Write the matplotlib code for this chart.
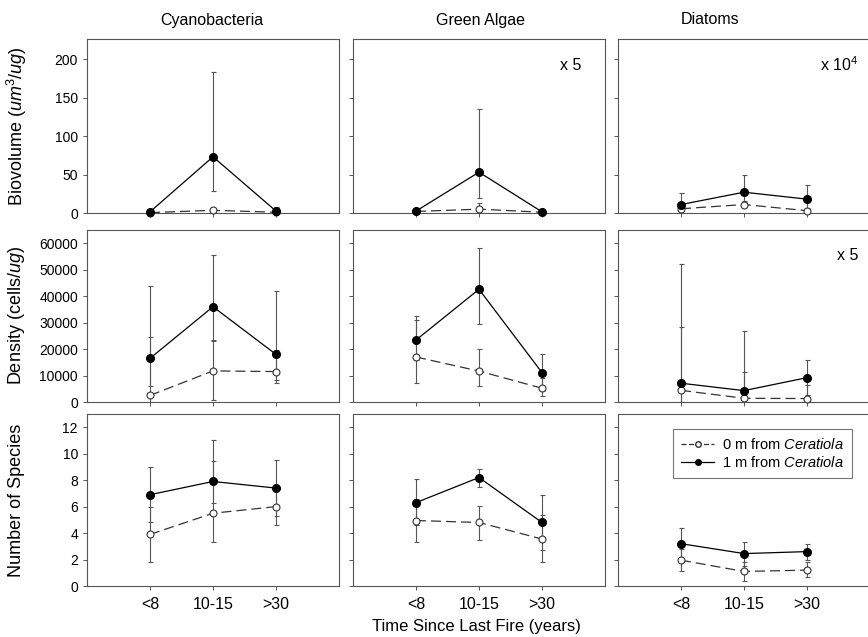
import matplotlib
matplotlib.use("Agg")
import matplotlib.pyplot as plt
from matplotlib.lines import Line2D

plt.rcParams["font.family"] = ["Liberation Sans", "DejaVu Sans"]
plt.rcParams["mathtext.fontset"] = "custom"
plt.rcParams["mathtext.rm"] = "Liberation Sans"
plt.rcParams["mathtext.it"] = "Liberation Sans:italic"

years = ["<8", "10-15", ">30"]
groups = ["Cyanobacteria", "Green Algae", "Diatoms"]

# biovolume (rows = group, cols = years)
bio_0 = [[0.5, 3.5, 1.0], [2.0, 5.0, 1.0], [5.5, 11.0, 3.0]]
bio_0_lo = [[0.5, 3.5, 0.0], [2.0, 2.0, 1.0], [3.0, 8.0, 1.0]]
bio_0_hi = [[0.5, 5.0, 1.0], [2.0, 13.0, 1.0], [7.0, 14.0, 5.0]]
bio_1 = [[1.5, 73.0, 2.5], [2.5, 53.0, 1.5], [11.0, 27.0, 18.0]]
bio_1_lo = [[1.5, 29.0, 0.0], [2.5, 20.0, 1.5], [11.0, 15.0, 6.0]]
bio_1_hi = [[1.5, 183.0, 8.0], [2.5, 135.0, 1.5], [26.0, 50.0, 37.0]]

# density
den_0 = [[2500, 11750, 11500], [17000, 11700, 5200], [4400, 1400, 1300]]
den_0_lo = [[0, 800, 8500], [7200, 5900, 2200], [0, 0, 0]]
den_0_hi = [[24400, 23000, 19500], [31000, 20200, 9000], [28400, 11400, 6500]]
den_1 = [[16500, 36000, 18000], [23400, 42600, 11100], [7100, 4300, 9200]]
den_1_lo = [[6000, 23400, 7200], [15800, 29300, 4200], [0, 0, 2700]]
den_1_hi = [[44000, 55600, 41800], [32500, 58100, 18000], [52200, 26800, 15700]]

# number of species
spp_0 = [[3.9, 5.5, 6.0], [4.95, 4.8, 3.55], [1.95, 1.1, 1.2]]
spp_0_lo = [[1.8, 3.35, 4.6], [3.35, 3.5, 1.8], [1.1, 0.4, 0.65]]
spp_0_hi = [[6.0, 9.45, 7.4], [6.6, 6.05, 5.35], [2.8, 1.8, 1.85]]
spp_1 = [[6.9, 7.9, 7.4], [6.3, 8.2, 4.8], [3.2, 2.45, 2.6]]
spp_1_lo = [[4.8, 6.3, 5.3], [4.6, 7.5, 2.7], [2.0, 1.5, 2.0]]
spp_1_hi = [[9.0, 11.0, 9.5], [8.05, 8.85, 6.9], [4.4, 3.35, 3.2]]

row_labels = ["Biovolume ($\\it{um}$$^3$/$\\it{ug}$)", "Density (cells/$\\it{ug}$)", "Number of Species"]
row_ticks = [range(0, 201, 50), range(0, 60001, 10000), range(0, 13, 2)]
row_ylim = [226, 65000, 13]
scale_notes = [["", "x 5", "x 10$^4$"], ["", "", "x 5"], ["", "", ""]]

rows = [
    (bio_0, bio_0_lo, bio_0_hi, bio_1, bio_1_lo, bio_1_hi),
    (den_0, den_0_lo, den_0_hi, den_1, den_1_lo, den_1_hi),
    (spp_0, spp_0_lo, spp_0_hi, spp_1, spp_1_lo, spp_1_hi),
]

fig = plt.figure(figsize=(8.68, 6.37), dpi=100)
W, H = 868.0, 637.0
col_x = [87, 353, 618]
row_y = [(39, 213), (230, 402), (414, 586)]
xs = [1, 2, 3]
frame = "#555555"
ebc = "#555555"

for r in range(3):
    m0, lo0, hi0, m1, lo1, hi1 = rows[r]
    for c in range(3):
        top, bot = row_y[r]
        ax = fig.add_axes([col_x[c] / W, 1 - bot / H, 252 / W, (bot - top) / H])
        e0 = [[m0[c][i] - lo0[c][i] for i in range(3)], [hi0[c][i] - m0[c][i] for i in range(3)]]
        e1 = [[m1[c][i] - lo1[c][i] for i in range(3)], [hi1[c][i] - m1[c][i] for i in range(3)]]
        ax.errorbar(xs, m0[c], yerr=e0, fmt="none", ecolor=ebc, elinewidth=0.8, capsize=1.8, capthick=0.8, zorder=2)
        ax.errorbar(xs, m1[c], yerr=e1, fmt="none", ecolor=ebc, elinewidth=0.8, capsize=1.8, capthick=0.8, zorder=2)
        ax.plot(xs, m0[c], color="#333333", lw=0.9, ls=(0, (8, 4)), marker="o", ms=5,
                mfc="white", mec="#333333", mew=0.8, zorder=3, clip_on=False)
        ax.plot(xs, m1[c], color="black", lw=0.9, marker="o", ms=5.5, mfc="black", mec="black", zorder=4,
                clip_on=False)
        ax.set_xlim(0, 4)
        ax.set_ylim(0, row_ylim[r])
        ax.set_yticks(list(row_ticks[r]))
        ax.set_xticks(xs)
        ax.tick_params(direction="out", length=3, width=0.7, color=frame, top=False, right=False)
        for s in ax.spines.values():
            s.set_color(frame)
            s.set_linewidth(0.8)
        if c == 0:
            ax.tick_params(axis="y", labelsize=10)
        else:
            ax.set_yticklabels([])
        if r == 2:
            ax.set_xticklabels(years, fontsize=11.5)
            ax.tick_params(axis="x", pad=5)
        else:
            ax.set_xticklabels([])
        if scale_notes[r][c]:
            xr = 0.905 if c == 1 else 0.955
            ax.text(xr, 0.85, scale_notes[r][c], transform=ax.transAxes, ha="right", va="center", fontsize=11.5)
        if r == 2 and c == 2:
            handles = [
                Line2D([], [], color="#333333", lw=0.9, ls=(0, (4, 2)), marker="o", ms=4, mfc="white", mec="#333333"),
                Line2D([], [], color="black", lw=0.9, marker="o", ms=4, mfc="black"),
            ]
            leg = ax.legend(handles, ["0 m from $\\it{Ceratiola}$", "1 m from $\\it{Ceratiola}$"],
                            loc="upper right", bbox_to_anchor=(0.958, 0.955), fontsize=10.5, frameon=True,
                            fancybox=False, edgecolor=frame, handlelength=2.2, labelspacing=0.2,
                            borderpad=0.55, handletextpad=0.6)
            leg.get_frame().set_linewidth(0.8)

for r in range(3):
    top, bot = row_y[r]
    fig.text(17 / W, 1 - (top + bot) / 2 / H, row_labels[r], rotation=90, ha="center", va="center", fontsize=13)

for name, x in zip(groups, [212, 480, 710]):
    fig.text(x / W, 1 - 20 / H, name, ha="center", va="center", fontsize=11.5)

fig.text(476 / W, 1 - 626 / H, "Time Since Last Fire (years)", ha="center", va="center", fontsize=12)

fig.savefig("out.png", dpi=100)
